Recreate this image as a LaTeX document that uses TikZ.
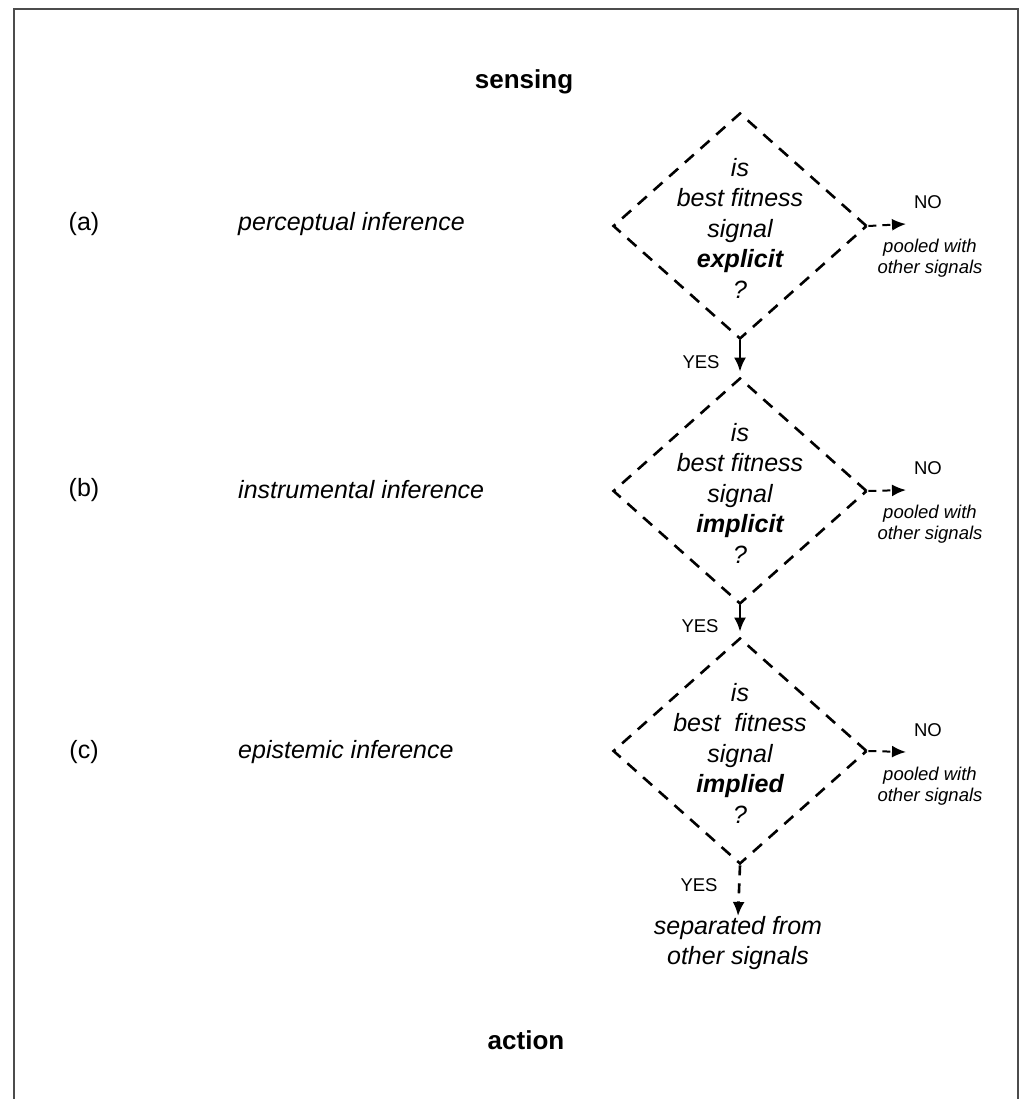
\documentclass[tikz,border=0pt]{standalone}
\usepackage{fontspec}
\setmainfont{Liberation Sans}
\usetikzlibrary{shapes.geometric,arrows.meta}
\begin{document}
\begin{tikzpicture}[x=1pt,y=-1pt,
  big/.style={font=\fontsize{25}{30.5}\selectfont, inner sep=0pt},
  small/.style={font=\fontsize{18.5}{21.5}\selectfont, inner sep=0pt},
  decision/.style={draw, shape=diamond, line width=2.6pt, dash pattern=on 12pt off 9pt,
     minimum width=254pt, minimum height=226pt, inner sep=0pt},
  yesarrow/.style={line width=2.6pt, -{Latex[length=14pt,width=12pt]}},
  noarrow/.style={line width=2pt, dash pattern=on 8pt off 6pt, -{Latex[length=14pt,width=12pt]}}
]
\useasboundingbox (0,0) rectangle (1033,1099);
\draw[line width=2pt, black!70] (14,1105) -- (14,9) -- (1018,9) -- (1018,1105);

\node[big, font=\fontsize{26}{30}\selectfont\bfseries] (sensing) at (524,82) {sensing};
\node[big, font=\fontsize{26}{30}\selectfont\bfseries] (action) at (526,1040) {action};

% left labels
\node[big] (la) at (84,224) {(a)};
\node[big] (lb) at (84,490) {(b)};
\node[big] (lc) at (84,752) {(c)};
\node[big, anchor=west] (ta) at (238,224) {\itshape perceptual inference};
\node[big, anchor=west] (tb) at (238,490) {\itshape instrumental inference};
\node[big, anchor=west] (tc) at (238,752) {\itshape epistemic inference};

% diamonds
\node[decision] (d1) at (740,226) {};
\node[decision] (d2) at (740,491) {};
\node[decision] (d3) at (740,751) {};
\node[big, align=center] (q1) at (740,228) {\itshape is\\\itshape best fitness\\\itshape signal\\\bfseries\itshape explicit\\\itshape ?};
\node[big, align=center] (q2) at (740,493) {\itshape is\\\itshape best fitness\\\itshape signal\\\bfseries\itshape implicit\\\itshape ?};
\node[big, align=center] (q3) at (740,753) {\itshape is\\\itshape best\ \ fitness\\\itshape signal\\\bfseries\itshape implied\\\itshape ?};

% YES arrows
\draw[yesarrow, shorten >=5pt] (d1.south) -- (d2.north);
\draw[yesarrow, shorten >=5pt] (d2.south) -- (d3.north);
\node[small] (y1) at (701,362) {YES};
\node[small] (y2) at (700,626) {YES};
\node[small] (y3) at (699,885) {YES};

% NO arrows
\foreach \d/\yy in {d1/224, d2/490, d3/752}{
  \coordinate (\d no) at (906,\yy);
  \draw[noarrow] (\d.east) -- (\d no);
  \node[small] (\d NO) at (928,\yy-22) {NO};
  \node[small, align=center] (\d pool) at (930,\yy+34) {\itshape pooled with\\\itshape other signals};
}

% final
\node[big, align=center, anchor=north] (sep) at (738,916) {\itshape separated from\\\itshape other signals};
\draw[line width=2.6pt, dash pattern=on 10pt off 8pt, -{Latex[length=14pt,width=12pt]}] (d3.south) -- (sep.north);
\end{tikzpicture}
\end{document}
